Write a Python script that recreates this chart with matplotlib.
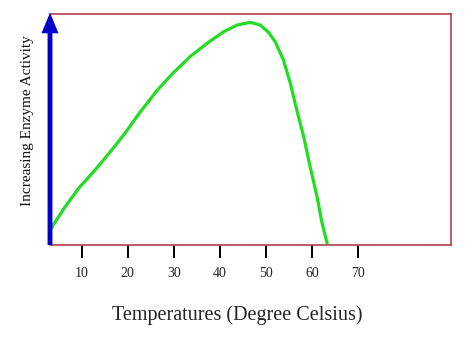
import matplotlib
matplotlib.use("Agg")
import matplotlib.pyplot as plt

# Data
temperature = [3.5, 3.8, 6.4, 9.3, 12.9, 16.5, 19.4, 22.3, 26.3, 29.9, 33.5, 37.2,
               40.8, 43.7, 46.6, 48.8, 50.6, 52.0, 53.8, 55.3, 56.7, 58.2, 59.6,
               61.1, 62.2, 63.3]
activity = [7.4, 8.7, 16.6, 24.5, 32.5, 41.1, 48.4, 56.5, 66.8, 74.6, 81.5, 87.3,
            92.3, 95.2, 96.4, 95.2, 92.0, 88.0, 80.1, 70.0, 58.4, 46.9, 33.9,
            20.9, 9.4, 0.7]
tick_values = [10, 20, 30, 40, 50, 60, 70]
tick_labels = ["10", "20", "30", "40", "50", "60", "70"]

serif = ["Liberation Serif", "DejaVu Serif"]

fig = plt.figure(figsize=(4.74, 3.44), dpi=100)
ax = fig.add_axes([50/474, 1-245/344, 401/474, 231/344])

ax.plot(temperature, activity, color="#22dd22", lw=2.3,
        solid_capstyle="round", solid_joinstyle="round")

ax.set_xlim(3.1, 90.2)
ax.set_ylim(0, 100)

for s in ["top", "right", "bottom"]:
    ax.spines[s].set_color("#b5404a")
    ax.spines[s].set_linewidth(1.2)
ax.spines["left"].set_visible(False)

ax.set_yticks([])
ax.set_xticks(tick_values)
ax.set_xticklabels(tick_labels, fontfamily=serif, fontsize=10)
ax.tick_params(axis="x", direction="out", length=9.5, width=1.4, pad=6, colors="black")
ax.tick_params(axis="x", labelcolor="#222222")

ax.annotate("", xy=(0, 1.005), xytext=(0, 0), xycoords="axes fraction",
            arrowprops=dict(arrowstyle="-|>,head_length=0.6,head_width=0.25",
                            color="#0000cc", lw=3.5, mutation_scale=14,
                            shrinkA=0, shrinkB=0, capstyle="butt", joinstyle="miter"),
            annotation_clip=False)

fig.text(237/474, 1-315/344, "Temperatures (Degree Celsius)", ha="center", va="center",
         fontfamily=serif, fontsize=14.5, color="#222222")
fig.text(28/474, 1-121/344, "Increasing Enzyme Activity", ha="center", va="center",
         rotation=90, fontfamily=serif, fontsize=11, color="#111111")

fig.savefig("out.png", dpi=100)
